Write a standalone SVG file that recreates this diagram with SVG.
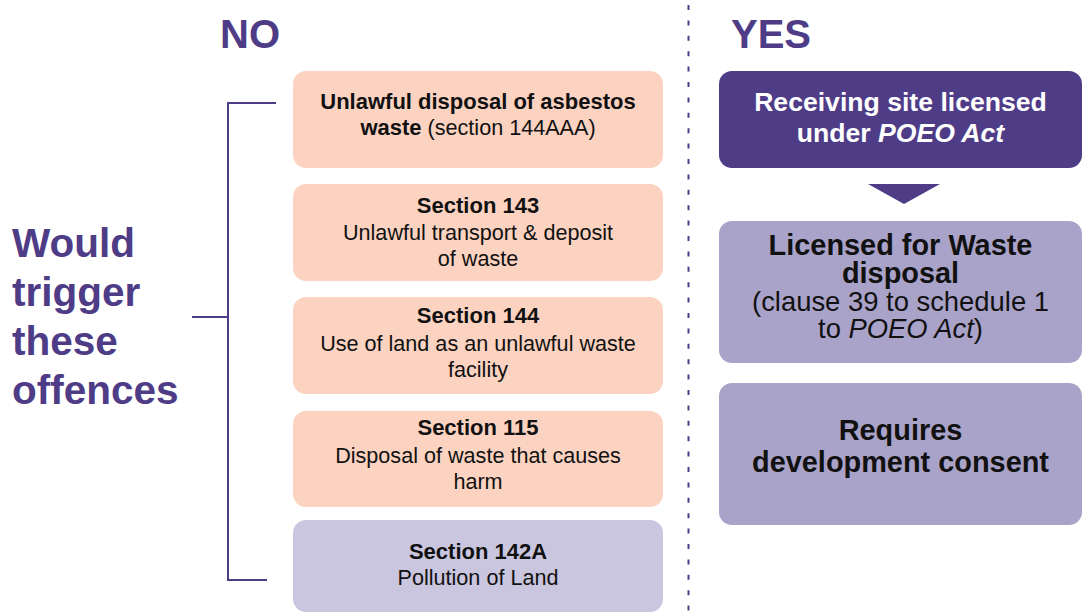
<svg xmlns="http://www.w3.org/2000/svg" width="1083" height="612" viewBox="0 0 1083 612">
<style>
text{font-family:"Liberation Sans",Arial,sans-serif;text-anchor:middle}
.hd{font-size:40px;font-weight:bold;fill:#4f3c87;text-anchor:start}
.b{font-weight:bold}
.lt{font-size:21.6px;fill:#111}
.lt .b,.lt.b{font-size:22px}
.peach{fill:#fcd3c1}
.lilac{fill:#cbc6df}
.mid{fill:#aaa3c9}
.dark{fill:#4f3c87}
.rt{font-size:28.9px;fill:#111}
.wt{font-size:26.6px;fill:#fff;font-weight:bold}
.line{fill:none;stroke:#4f3c87;stroke-width:2}
</style>
<g id="headings">
<text class="hd" x="220" y="48">NO</text>
<text class="hd" x="731" y="48">YES</text>
<text class="hd" x="12" y="257" style="font-size:40.5px">Would</text>
<text class="hd" x="12" y="306" style="font-size:40.5px">trigger</text>
<text class="hd" x="12" y="355" style="font-size:40.5px">these</text>
<text class="hd" x="12" y="404" style="font-size:40.5px">offences</text>
</g>
<g id="connectors">
<path class="line" d="M276,103 H228 V580 H267 M192,317 H228"/>
<line x1="688.5" y1="5" x2="688.5" y2="612" stroke="#4f3c87" stroke-width="2" stroke-dasharray="5 10.4"/>
<polygon class="dark" points="868,184 940,184 904,204"/>
</g>
<g id="n-asbestos">
<rect class="peach" x="293" y="71" width="370" height="97" rx="13"/>
<text class="lt" x="478" y="109"><tspan class="b">Unlawful disposal of asbestos</tspan></text>
<text class="lt" x="478" y="135"><tspan class="b">waste</tspan> (section 144AAA)</text>
</g>
<g id="n-s143">
<rect class="peach" x="293" y="184" width="370" height="97" rx="13"/>
<text class="lt b" x="478" y="213">Section 143</text>
<text class="lt" x="478" y="240">Unlawful transport &amp; deposit</text>
<text class="lt" x="478" y="266">of waste</text>
</g>
<g id="n-s144">
<rect class="peach" x="293" y="297" width="370" height="97" rx="13"/>
<text class="lt b" x="478" y="323">Section 144</text>
<text class="lt" x="478" y="351">Use of land as an unlawful waste</text>
<text class="lt" x="478" y="377">facility</text>
</g>
<g id="n-s115">
<rect class="peach" x="293" y="411" width="370" height="96" rx="13"/>
<text class="lt b" x="478" y="435">Section 115</text>
<text class="lt" x="478" y="463">Disposal of waste that causes</text>
<text class="lt" x="478" y="489">harm</text>
</g>
<g id="n-s142a">
<rect class="lilac" x="293" y="520" width="370" height="92" rx="13"/>
<text class="lt b" x="478" y="559">Section 142A</text>
<text class="lt" x="478" y="585">Pollution of Land</text>
</g>
<g id="n-licensed">
<rect class="dark" x="719" y="71" width="363" height="97" rx="13"/>
<text class="wt" x="900.5" y="111">Receiving site licensed</text>
<text class="wt" x="900.5" y="142">under <tspan font-style="italic">POEO Act</tspan></text>
</g>
<g id="n-waste">
<rect class="mid" x="719" y="221" width="363" height="142" rx="13"/>
<text class="rt b" x="900.5" y="255">Licensed for Waste</text>
<text class="rt b" x="900.5" y="283">disposal</text>
<text class="rt" x="900.5" y="311" style="font-size:27.4px">(clause 39 to schedule 1</text>
<text class="rt" x="900.5" y="338" style="font-size:27.4px">to <tspan font-style="italic">POEO Act</tspan>)</text>
</g>
<g id="n-consent">
<rect class="mid" x="719" y="383" width="363" height="142" rx="13"/>
<text class="rt b" x="900.5" y="440">Requires</text>
<text class="rt b" x="900.5" y="472">development consent</text>
</g>
</svg>
